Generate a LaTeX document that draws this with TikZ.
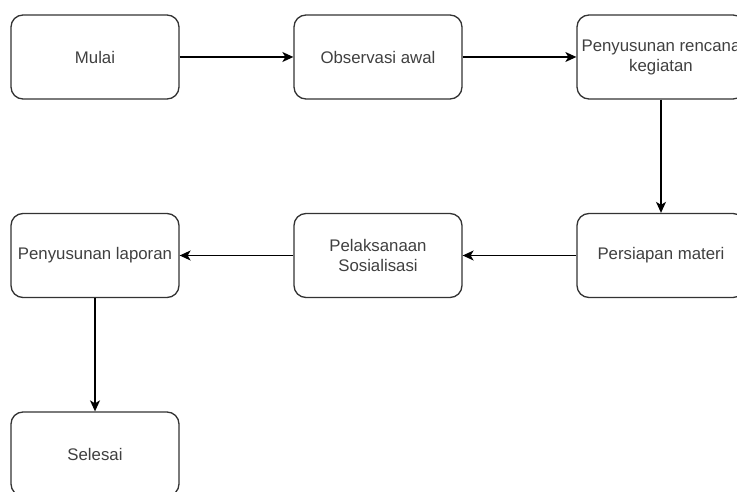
\documentclass[tikz,border=0pt]{standalone}
\usepackage{fontspec}
\setmainfont{Liberation Sans}
\usepackage{tikz}
\usetikzlibrary{arrows.meta}

\begin{document}
\begin{tikzpicture}[x=1pt,y=-1pt,>={Stealth[length=11pt,width=10pt,inset=3pt]},line join=round,
    stepbox/.style={draw=black!80,line width=1.3pt,rounded corners=12pt,fill=white,
      minimum width=168pt,minimum height=84pt,inner sep=2pt,align=center,
      text=black!75,font=\fontsize{16.8}{20}\selectfont},
    flow/.style={->,line width=1.3pt,black}]
  \useasboundingbox (0,0) rectangle (737,492);
  \clip (0,0) rectangle (737,492);
  \node[stepbox] (mulai) at (95,57) {Mulai};
  \node[stepbox] (observasi) at (378,57) {Observasi awal};
  \node[stepbox] (rencana) at (661,57) {Penyusunan rencana\\kegiatan};
  \node[stepbox] (materi) at (661,255.5) {Persiapan materi};
  \node[stepbox] (sosialisasi) at (378,255.5) {Pelaksanaan\\Sosialisasi};
  \node[stepbox] (laporan) at (95,255.5) {Penyusunan laporan};
  \node[stepbox] (selesai) at (95,454) {Selesai};
  \draw[flow] (mulai) -- (observasi);
  \draw[flow] (observasi) -- (rencana);
  \draw[flow] (rencana) -- (materi);
  \draw[flow] (materi) -- (sosialisasi);
  \draw[flow] (sosialisasi) -- (laporan);
  \draw[flow] (laporan) -- (selesai);
\end{tikzpicture}
\end{document}
